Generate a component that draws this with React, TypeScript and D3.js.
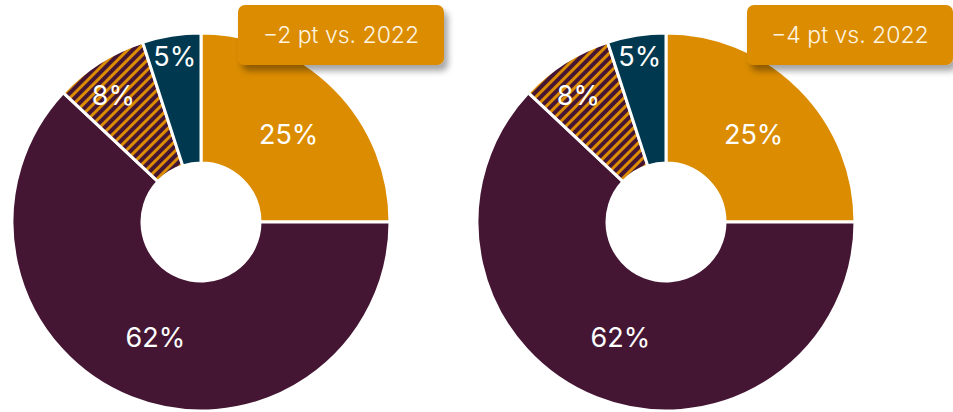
import { useRef, useEffect } from 'react'
import * as d3 from 'd3'

const categories = ['A', 'B', 'C', 'D']
const leftValues = [25, 62, 8, 5]
const rightValues = [25, 62, 8, 5]
const callouts = ['\u22122 pt vs. 2022', '\u22124 pt vs. 2022']

const ORANGE = '#DB8C00'
const PURPLE = '#451634'
const TEAL = '#00394F'
const fills = [ORANGE, PURPLE, 'url(#hatch)', TEAL]

const W = 953
const H = 412

export default function App() {
  const svgRef = useRef<SVGSVGElement>(null)

  useEffect(() => {
    if (!svgRef.current) return
    const svg = d3.select(svgRef.current)
    svg.selectAll('*').remove()

    const defs = svg.append('defs')
    const pat = defs.append('pattern')
      .attr('id', 'hatch')
      .attr('patternUnits', 'userSpaceOnUse')
      .attr('width', 7)
      .attr('height', 7)
      .attr('patternTransform', 'rotate(45)')
    pat.append('rect').attr('width', 7).attr('height', 7).attr('fill', PURPLE)
    pat.append('rect').attr('width', 3).attr('height', 7).attr('fill', ORANGE)

    const filter = defs.append('filter')
      .attr('id', 'shadow')
      .attr('x', '-20%').attr('y', '-30%')
      .attr('width', '150%').attr('height', '180%')
    filter.append('feDropShadow')
      .attr('dx', 4).attr('dy', 6)
      .attr('stdDeviation', 3)
      .attr('flood-color', '#000')
      .attr('flood-opacity', 0.35)

    const outerR = 189
    const innerR = 59
    const cy = 222
    const centers = [201, 666]
    const boxX = [238, 747]
    const datasets = [leftValues, rightValues]

    const pie = d3.pie<number>().value(d => d).sort(null)
    const arc = d3.arc<d3.PieArcDatum<number>>().innerRadius(innerR).outerRadius(outerR)

    const labelR = (v: number) => (v >= 20 ? 124 : v >= 7 ? 154 : 168)

    datasets.forEach((vals, i) => {
      const g = svg.append('g').attr('transform', `translate(${centers[i]},${cy})`)
      const arcs = pie(vals)
      g.selectAll('path')
        .data(arcs)
        .join('path')
        .attr('d', arc)
        .attr('fill', (_d, j) => fills[j])
        .attr('stroke', '#fff')
        .attr('stroke-width', 3)
        .attr('stroke-linejoin', 'round')

      g.selectAll('text')
        .data(arcs)
        .join('text')
        .attr('transform', d => {
          let a = (d.startAngle + d.endAngle) / 2
          if (d.data < 10 && d.data >= 7) a -= 0.04
          const r = labelR(d.data)
          return `translate(${Math.sin(a) * r},${-Math.cos(a) * r})`
        })
        .attr('text-anchor', 'middle')
        .attr('dy', '0.36em')
        .attr('fill', '#fff')
        .attr('font-family', 'Inter, "Noto Sans", sans-serif')
        .attr('font-weight', 400)
        .attr('font-size', 27)
        .text(d => `${d.data}%`)

      const bx = boxX[i]
      const bw = 206
      const by = 5
      const bh = 60
      svg.append('rect')
        .attr('x', bx).attr('y', by)
        .attr('width', bw).attr('height', bh)
        .attr('rx', 7)
        .attr('fill', ORANGE)
        .attr('filter', 'url(#shadow)')
      svg.append('text')
        .attr('x', bx + bw / 2)
        .attr('y', by + bh / 2)
        .attr('dy', '0.36em')
        .attr('text-anchor', 'middle')
        .attr('fill', '#FFF4E0')
        .attr('font-family', 'Inter, "Noto Sans", sans-serif')
        .attr('font-weight', 300)
        .attr('font-size', 23)
        .text(callouts[i])
    })
    void categories
  }, [])

  return (
    <svg
      ref={svgRef}
      width={W}
      height={H}
      style={{ position: 'absolute', left: 0, top: 0, display: 'block' }}
    />
  )
}
